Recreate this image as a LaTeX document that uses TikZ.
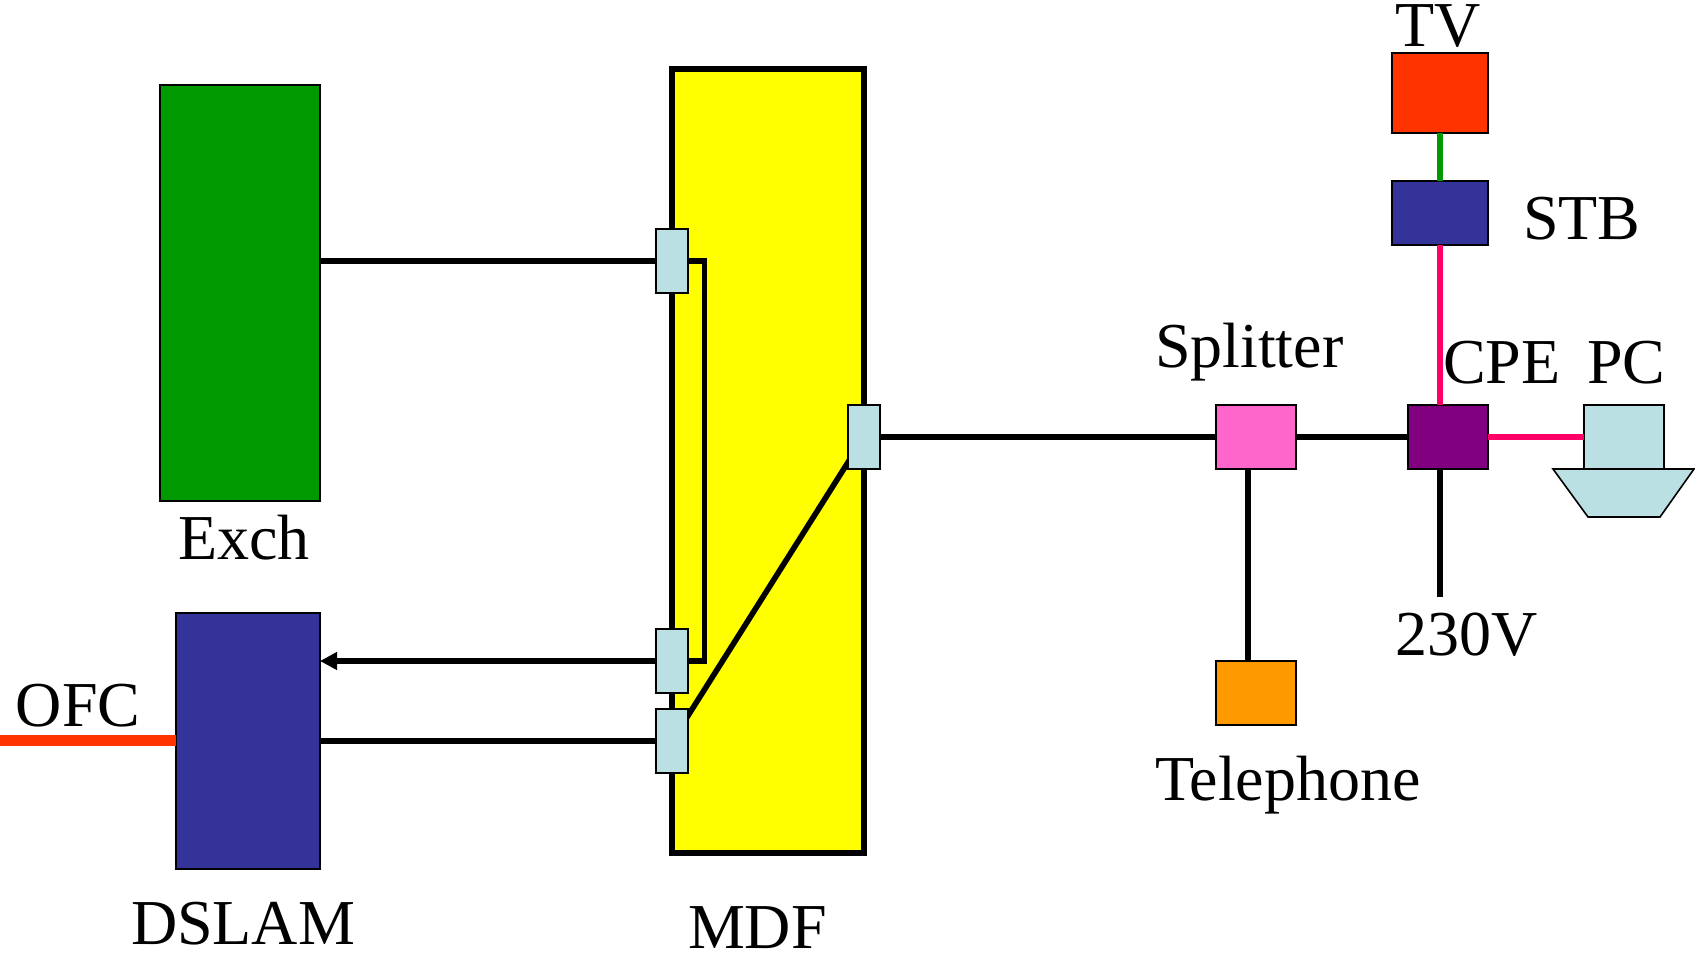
\documentclass[tikz,border=0pt]{standalone}
\usepackage{fontspec}
\setmainfont{Liberation Serif}
\usetikzlibrary{arrows.meta}
\definecolor{cgreen}{HTML}{009900}
\definecolor{cblue}{HTML}{333399}
\definecolor{cred}{HTML}{FF3300}
\definecolor{cpink}{HTML}{FF0066}
\definecolor{cpurple}{HTML}{800080}
\definecolor{corange}{HTML}{FF9900}
\definecolor{cmag}{HTML}{FF66CC}
\definecolor{clight}{HTML}{BBE0E3}
\definecolor{cyellow}{HTML}{FFFF00}
\tikzset{
  box/.style={draw=black,line width=1.6pt,rectangle,inner sep=0pt,outer sep=0pt,anchor=north west},
  port/.style={box,fill=clight,minimum width=32pt,minimum height=64pt},
  wire/.style={line width=5.6pt,draw=black},
  label/.style={inner sep=0pt,outer sep=0pt,anchor=base west,font=\fontsize{64pt}{64pt}\selectfont,text=black},
}
\begin{document}
\begin{tikzpicture}[x=1pt,y=-1pt]
\useasboundingbox (0,0) rectangle (1695,955);
% main blocks
\node[box,fill=cgreen,minimum width=160pt,minimum height=416pt] (exch) at (160,85) {};
\node[box,fill=cblue,minimum width=144pt,minimum height=256pt] (dslam) at (176,613) {};
\node[box,fill=cyellow,line width=5.6pt,minimum width=192pt,minimum height=784pt] (mdf) at (672,69) {};
% MDF ports (defined first as coordinates for wires)
\coordinate (p1) at (672,261);
\coordinate (p2) at (672,661);
\coordinate (p3) at (672,741);
\coordinate (pr) at (864,437);
\coordinate (loop) at (704.5,261);
\draw[wire] (p1) -- (p1 -| exch.east);
\draw[wire] (p1) -- (loop) -- (loop |- p2) -- (p2);
\draw[wire,-{Triangle[length=17pt,width=17pt]}] (p2) -- (p2 -| dslam.east);
\draw[wire] (p3) -- (p3 -| dslam.east);
\draw[wire] (p3) -- (pr);
\node[port,anchor=center] (port1) at (p1) {};
\node[port,anchor=center] (port2) at (p2) {};
\node[port,anchor=center] (port3) at (p3) {};
\node[port,anchor=center] (portr) at (pr) {};
% customer side
\node[box,fill=cmag,minimum width=80pt,minimum height=64pt] (split) at (1216,405) {};
\node[box,fill=corange,minimum width=80pt,minimum height=64pt] (tel) at (1216,661) {};
\node[box,fill=cpurple,minimum width=80pt,minimum height=64pt] (cpe) at (1408,405) {};
\node[box,fill=cblue,minimum width=96pt,minimum height=64pt] (stb) at (1392,181) {};
\node[box,fill=cred,minimum width=96pt,minimum height=80pt] (tv) at (1392,53) {};
\node[box,fill=clight,minimum width=80pt,minimum height=64pt] (pc) at (1584,405) {};
\coordinate (ofc) at (0,740);
\coordinate (mains) at (1440,597);
\draw[wire] (portr.east) -- (split.west);
\draw[wire] (split.east) -- (cpe.west);
\draw[wire] (1248,469) -- (1248,661);
\draw[wire] (mains) -- (mains |- cpe.south);
\draw[wire,draw=cgreen] (tv.south) -- (stb.north);
\draw[wire,draw=cpink] (stb.south) -- (stb.south |- cpe.north);
\draw[wire,draw=cpink] (cpe.east) -- (pc.west);
\draw[line width=11pt,draw=cred] (ofc) -- (ofc -| dslam.west);
\draw[line width=1.6pt,draw=black,fill=clight] (1553,469) -- (1694,469) -- (1660,517) -- (1588,517) -- cycle;
% labels
\node[label] (lexch) at (178,559) {Exch};
\node[label] (lofc) at (16,726) {OFC};
\node[label] (ldslam) at (131,944) {DSLAM};
\node[label] (lmdf) at (688,948) {MDF};
\node[label] (lsplit) at (1155,367) {Splitter};
\node[label] (ltel) at (1155,800) {Telephone};
\node[label] (ltv) at (1395,47) {TV};
\node[label] (lstb) at (1523,239) {STB};
\node[label] (lcpe) at (1443,383) {CPE};
\node[label] (lpc) at (1587,383) {PC};
\node[label] (lv) at (1395,655) {230V};
\end{tikzpicture}
\end{document}
